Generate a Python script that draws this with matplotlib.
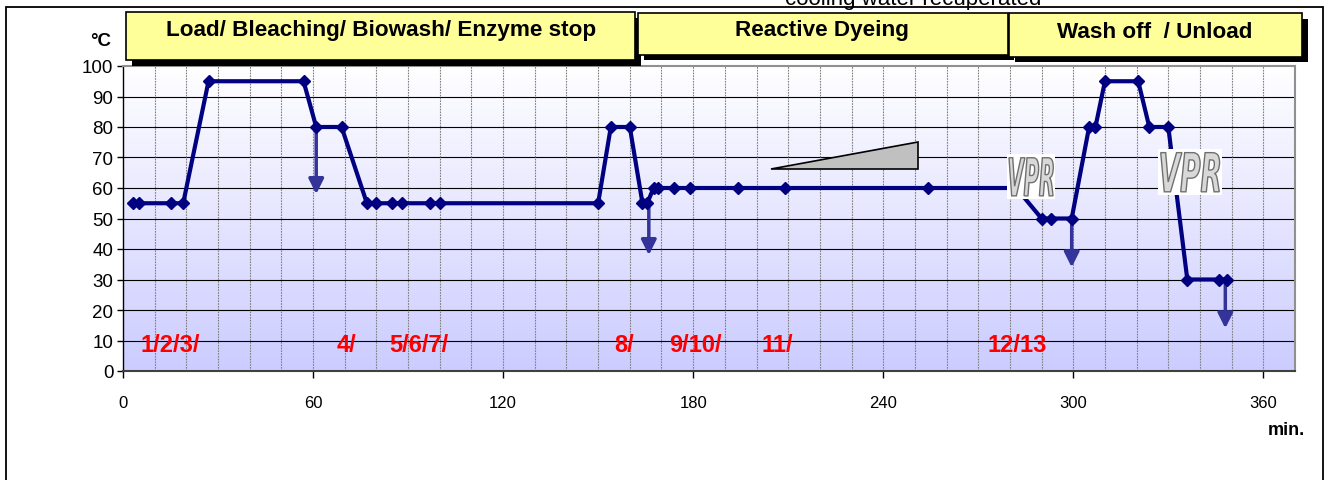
import numpy as np
import matplotlib
matplotlib.use("Agg")
import matplotlib.pyplot as plt
from matplotlib.patches import Rectangle, Polygon, PathPatch
from matplotlib.colors import LinearSegmentedColormap
from matplotlib.textpath import TextPath
from matplotlib.font_manager import FontProperties
from matplotlib.transforms import Affine2D

plt.rcParams['font.family'] = ['Liberation Sans', 'DejaVu Sans']

# ---------------- data ----------------
times = [3, 5, 15, 19, 27, 57, 61, 69, 77, 80, 85, 88, 97, 100, 150, 154, 160,
         164, 165.5, 167.5, 169, 174, 179, 194, 209, 254, 282, 290, 293, 299.5,
         305, 307, 310, 320.5, 324, 330, 336, 346, 348.5]
temps = [55, 55, 55, 55, 95, 95, 80, 80, 55, 55, 55, 55, 55, 55, 55, 80, 80,
         55, 55, 60, 60, 60, 60, 60, 60, 60, 60, 50, 50, 50,
         80, 80, 95, 95, 80, 80, 30, 30, 30]

# drain arrows: x, start temp, end temp
arrow_x = [61, 166, 299.5, 348]
arrow_from = [80, 55, 50, 30]
arrow_to = [58, 38, 34, 14]

step_labels = ["1/2/3/", "4/", "5/6/7/", "8/", "9/10/", "11/", "12/13"]
step_x = [5.4, 67.3, 84, 155, 172.4, 201.5, 272.8]
step_y = 8.6

phase_labels = ["Load/ Bleaching/ Biowash/ Enzyme stop", "Reactive Dyeing", "Wash off  / Unload"]

x_ticks = [0, 60, 120, 180, 240, 300, 360]
y_ticks = list(range(0, 101, 10))

# ---------------- figure ----------------
W, H = 1327, 481
fig = plt.figure(figsize=(W / 100, H / 100), dpi=100)
fig.patch.set_facecolor('white')

def fx(px):
    return px / W

def fy(py):
    return 1 - py / H

L, R, T, B = 123, 1295, 67, 372
ax = fig.add_axes([fx(L), fy(B), (R - L) / W, (B - T) / H])
ax.set_xlim(0, 370)
ax.set_ylim(0, 100)

# gradient background
cmap = LinearSegmentedColormap.from_list('bg', ['#CCCCFF', '#FFFFFF'])
ax.imshow(np.linspace(1, 0, 256).reshape(-1, 1), cmap=cmap, extent=[0, 370, 0, 100],
          aspect='auto', zorder=0, interpolation='bicubic')

# grid
for yv in range(10, 100, 10):
    ax.axhline(yv, color='black', lw=0.8, zorder=1)
for xv in range(10, 370, 10):
    ax.axvline(xv, color='#808080', lw=0.8, ls=(0, (1.5, 1)), zorder=1)

# gray wedge
ax.add_patch(Polygon([[204.5, 66.2], [251, 66.2], [251, 75.1]], closed=True,
                     facecolor='#C0C0C0', edgecolor='black', lw=1.2, zorder=2))

# main line
ax.plot(times, temps, color='#000080', lw=3, marker='D', ms=6,
        markerfacecolor='#000080', markeredgecolor='#000080', zorder=4)

# arrows
for xa, y0, y1 in zip(arrow_x, arrow_from, arrow_to):
    ax.annotate('', xy=(xa, y1), xytext=(xa, y0),
                arrowprops=dict(arrowstyle='-|>,head_length=0.9,head_width=0.45',
                                color='#333399', lw=2.5, shrinkA=0, shrinkB=0),
                zorder=3)

# step labels
for lab, xs in zip(step_labels, step_x):
    ax.text(xs, step_y, lab, color='red', fontsize=17, fontweight='bold',
            ha='left', va='center', zorder=5)

# VPR stamps
vpr_prop = FontProperties(family='DejaVu Sans', weight='bold', style='italic')
for (x0, x1, y0, y1) in [(279.1, 294.3, 56.4, 71.1), (326.8, 347.0, 57.7, 72.8)]:
    ax.add_patch(Rectangle((x0, y0), x1 - x0, y1 - y0, facecolor='white',
                           edgecolor='none', zorder=6))
    tp = TextPath((0, 0), "VPR", size=1, prop=vpr_prop)
    ext = tp.get_extents()
    sx = (x1 - x0) * 0.92 / ext.width
    sy = (y1 - y0) * 0.85 / ext.height
    tr = Affine2D().translate(-ext.x0, -ext.y0).scale(sx, sy).translate(
        x0 + (x1 - x0) * 0.04, y0 + (y1 - y0) * 0.07) + ax.transData
    ax.add_patch(PathPatch(tp, transform=tr, facecolor='#D8D8D8',
                           edgecolor='#707070', lw=1.0, zorder=7))

# ticks / spines
ax.set_xticks(x_ticks)
ax.set_yticks(y_ticks)
ax.tick_params(axis='x', direction='out', length=5, width=1, pad=12, labelsize=12)
ax.tick_params(axis='y', direction='out', length=4, width=1, pad=3, labelsize=13.5)
ax.spines['left'].set_color('black')
ax.spines['left'].set_linewidth(1)
ax.spines['bottom'].set_color('#404040')
ax.spines['bottom'].set_linewidth(1.5)
for s in ['top', 'right']:
    ax.spines[s].set_color('#909090')
    ax.spines[s].set_linewidth(1.5)

# axis titles
fig.text(fx(101), fy(42), '°C', fontsize=13.5, fontweight='bold', ha='center', va='center')
fig.text(fx(1286), fy(431), 'min.', fontsize=13, fontweight='bold', ha='center', va='center')

# outer border
fig.add_artist(Rectangle((fx(6), fy(500)), fx(1323) - fx(6), fy(8) - fy(500),
                         transform=fig.transFigure, facecolor='none',
                         edgecolor='black', lw=1.3, clip_on=False))

# top cut-off note (partly outside the figure, as in the reference)
fig.text(fx(913), fy(4.5), 'cooling water recuperated', fontsize=16,
         ha='center', va='baseline')

# phase header boxes
boxes = [(126, 635, 13.5, 61, 381, 36), (638, 1008, 13.5, 55.5, 822, 36),
         (1009, 1302, 14, 57.5, 1155, 37.7)]
for (bx0, bx1, by0, by1, tx, tyb), lab in zip(boxes, phase_labels):
    fig.add_artist(Rectangle((fx(bx0 + 6), fy(by1 + 5.5)), (bx1 - bx0) / W, (by1 - by0) / H,
                             transform=fig.transFigure, facecolor='black',
                             edgecolor='black', lw=0))
    fig.add_artist(Rectangle((fx(bx0), fy(by1)), (bx1 - bx0) / W, (by1 - by0) / H,
                             transform=fig.transFigure, facecolor='#FFFF99',
                             edgecolor='black', lw=1.2))
    fig.text(fx(tx), fy(tyb), lab, fontsize=16.2, fontweight='bold',
             ha='center', va='baseline')

fig.savefig('out.png', dpi=100)
